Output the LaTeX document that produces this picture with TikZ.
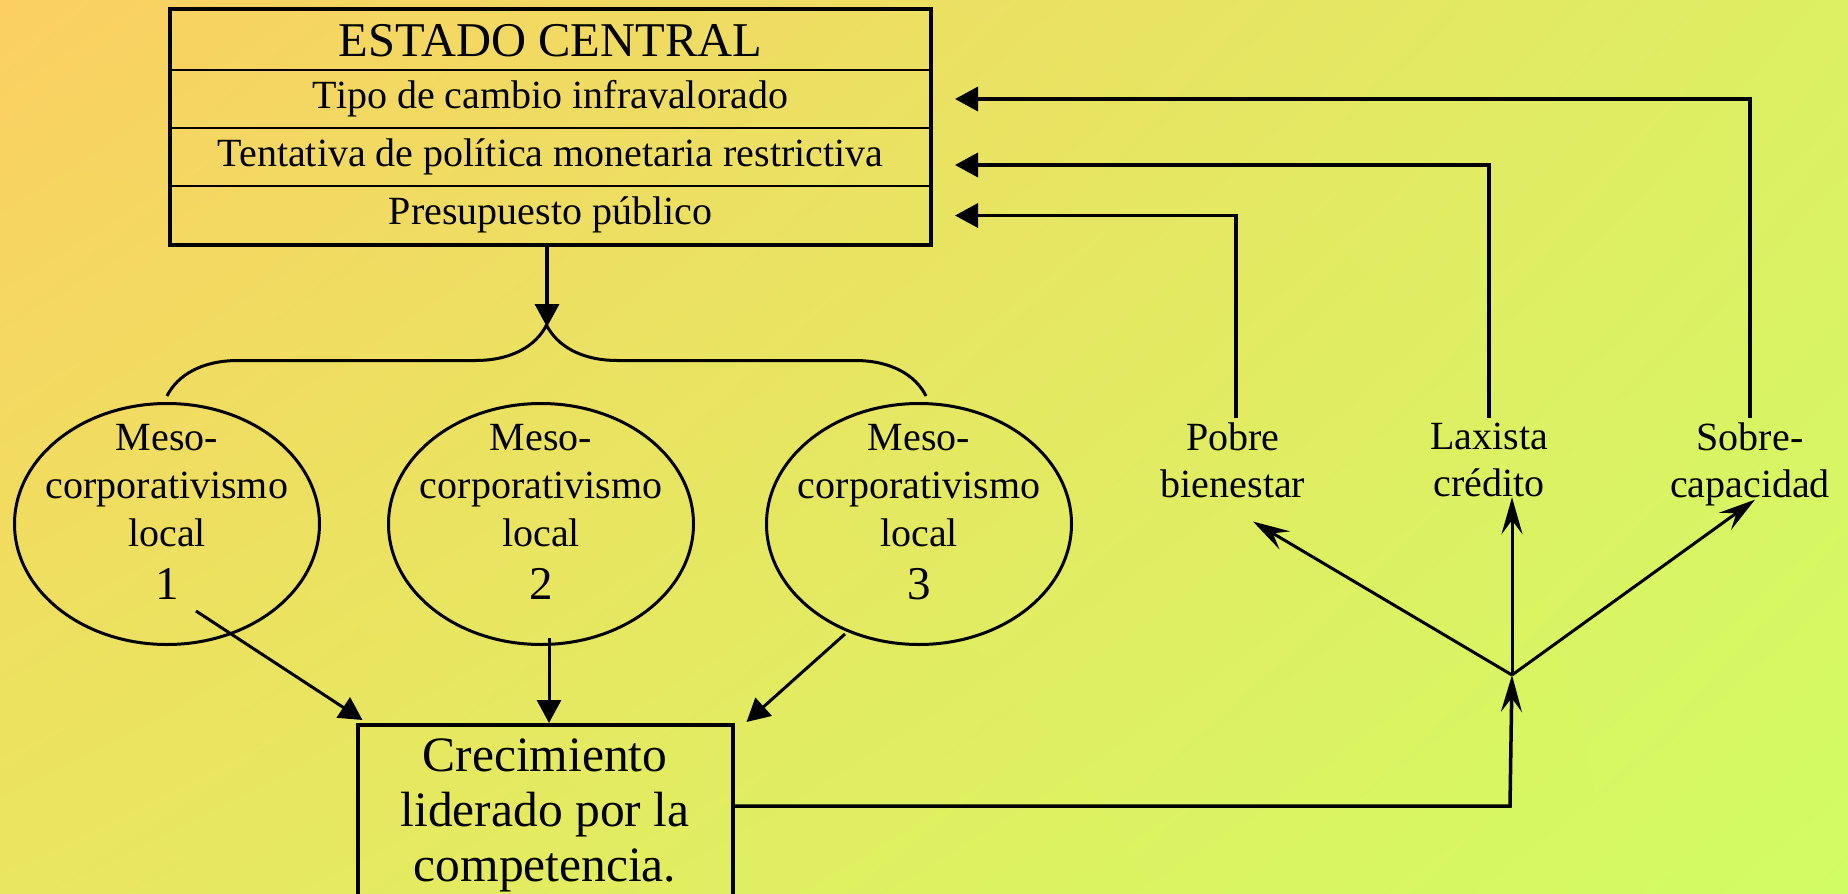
\documentclass[tikz,border=0pt]{standalone}
\usepackage{fontspec}
\setmainfont{Liberation Serif}
\usetikzlibrary{arrows.meta,shapes.geometric,decorations.pathreplacing,shadings}
\definecolor{bgtl}{HTML}{FBCF62}
\definecolor{bgtr}{HTML}{DDEF63}
\definecolor{bgbl}{HTML}{E9E65F}
\definecolor{bgbr}{HTML}{D2FC63}
\begin{document}
\begin{tikzpicture}[x=1pt, y=-1pt, every node/.style={font=\fontsize{40}{47}\selectfont, align=center},
    rowbox/.style={draw, line width=2.5pt, minimum width=761pt, minimum height=58pt, inner sep=0pt, outer sep=0pt, text height=27pt, text depth=9pt},
    meso/.style={draw, ellipse, line width=3pt, minimum width=305pt, minimum height=241pt},
    mesotext/.style={inner sep=0pt, anchor=north, font=\fontsize{40}{48}\selectfont},
    effect/.style={inner sep=5pt, anchor=north},
    tri/.style={line width=3pt, -{Triangle[length=23pt, width=24pt]}},
    stl/.style={line width=3pt, -{Stealth[length=37pt, width=21pt, inset=14pt]}}]
    \useasboundingbox (0,0) rectangle (1848,894);
    \shade[upper left=bgtl, upper right=bgtr, lower left=bgbl, lower right=bgbr] (0,0) rectangle (1848,894);
    \node[rowbox, minimum height=61pt, text height=33pt, text depth=0pt, font=\fontsize{48.5}{50}\selectfont, anchor=north west] (estado) at (170,9) {ESTADO CENTRAL};
    \node[rowbox, anchor=north] (tipo) at (estado.south) {Tipo de cambio infravalorado};
    \node[rowbox, anchor=north] (tentativa) at (tipo.south) {Tentativa de política monetaria restrictiva};
    \node[rowbox, anchor=north, minimum height=59pt] (presupuesto) at (tentativa.south) {Presupuesto público};
    \draw[line width=4pt] (estado.north west) rectangle (presupuesto.south east);
    \coordinate (bracetip) at (547,327);
    \draw[tri, line width=3.5pt] (presupuesto.south -| bracetip) -- (bracetip);
    \node[meso] (m1) at (167,524) {};
    \node[meso] (m2) at (541,524) {};
    \node[meso] (m3) at (919,524) {};
    \foreach \i in {1,2,3}
        \node[mesotext] (t\i) at ([yshift=-22pt]m\i.north) {Meso-\\corporativismo\\local\\[5pt]{\fontsize{47}{52}\selectfont \i}};
    \draw[line width=3pt, decorate, decoration={brace, amplitude=71pt}] ([yshift=6pt]m1.north) -- ([xshift=7pt, yshift=6pt]m3.north);
    \node[draw, line width=4pt, minimum width=375pt, inner xsep=10pt, inner ysep=14pt, anchor=north, font=\fontsize{49.5}{55}\selectfont] (crec) at (545,723) {Crecimiento\\liderado por la\\competencia.};
    \draw[tri] ([xshift=29pt, yshift=35pt]m1.south) -- ([xshift=7pt, yshift=3pt]crec.north west);
    \draw[tri] ([xshift=8pt, yshift=8pt]m2.south) -- ([xshift=4pt]crec.north);
    \draw[tri] ([xshift=-74pt, yshift=12pt]m3.south) -- ([xshift=12pt, yshift=1pt]crec.north east);
    \node[effect] (pobre) at (1233,418) {Pobre\\bienestar};
    \node[effect] (laxista) at (1489,418) {Laxista\\crédito};
    \node[effect] (sobre) at (1750,418) {Sobre-\\capacidad};
    \draw[tri, line width=3.5pt] ([xshift=3pt]pobre.north) |- ([xshift=24pt]presupuesto.east);
    \draw[tri, line width=3.5pt] (laxista.north) |- ([xshift=24pt, yshift=-8pt]tentativa.east);
    \draw[tri, line width=3.5pt] (sobre.north) |- ([xshift=24pt]tipo.east);
    \coordinate (junc) at (1512,675);
    \coordinate (turn) at (1510,806);
    \draw[stl, line width=3.5pt] (crec.east |- turn) -- (turn) -- (junc);
    \draw[stl] (junc) -- ([xshift=20pt, yshift=-18pt]pobre.south);
    \draw[stl] (junc) -- ([xshift=23pt, yshift=5pt]laxista.south);
    \draw[stl] (junc) -- ([xshift=5pt, yshift=12pt]sobre.south);
\end{tikzpicture}
\end{document}
